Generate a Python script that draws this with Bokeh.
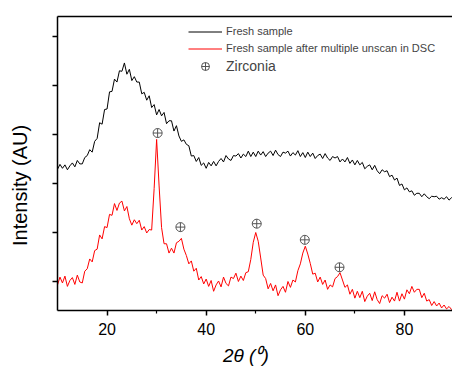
import numpy as np
from bokeh.plotting import figure
from bokeh.models import Range1d, FixedTicker, LinearAxis, Legend, LegendItem
from bokeh.embed import file_html
from bokeh.resources import INLINE

# ---- data ----
scan_start, scan_step = 10.0, 0.5          # 2theta grid of the scans (degrees)

fresh_sample = [
    229, 239, 231, 238, 228, 236, 242, 234, 247, 240,
    240, 253, 257, 269, 264, 286, 292, 324, 321, 351,
    352, 387, 388, 413, 407, 430, 429, 446, 423, 433,
    410, 418, 407, 407, 383, 386, 370, 379, 355, 361,
    340, 351, 338, 345, 322, 328, 328, 307, 318, 297,
    286, 289, 280, 277, 256, 257, 245, 253, 237, 242,
    231, 243, 236, 245, 236, 245, 251, 244, 257, 250,
    247, 257, 256, 261, 252, 260, 255, 266, 255, 264,
    255, 266, 258, 265, 255, 262, 266, 257, 268, 259,
    255, 264, 262, 266, 256, 263, 258, 267, 255, 263,
    253, 264, 255, 262, 251, 257, 260, 251, 261, 252,
    247, 255, 252, 255, 244, 250, 244, 253, 241, 248,
    238, 247, 238, 243, 230, 235, 238, 228, 237, 226,
    220, 228, 224, 226, 214, 217, 207, 211, 196, 199,
    187, 191, 183, 185, 176, 180, 180, 173, 179, 173,
    169, 174, 173, 174, 168, 171, 168, 173, 166, 171,
    167,
]

after_dsc = [
    -7, 9, -3, 11, -10, 2, 8, -6, 13, -1,
    -3, 21, 26, 46, 40, 63, 66, 95, 87, 112,
    110, 137, 135, 159, 145, 160, 164, 144, 153, 128,
    115, 126, 118, 125, 105, 112, 99, 106, 105, 190,
    290, 195, 110, 77, 77, 58, 68, 58, 79, 82,
    88, 66, 53, 36, 42, 21, 27, 3, 10, -5,
    5, -10, 2, -20, -7, 1, -11, 9, -4, -9,
    9, 6, 17, 0, 11, 2, 18, 20, 45, 80,
    100, 82, 48, 13, 6, -15, -4, -19, -7, -29,
    -17, -10, -22, 0, -12, 3, -1, 22, 36, 58,
    72, 56, 37, 15, 17, -1, 9, -6, 3, -16,
    -7, -11, 6, 10, 18, 3, -12, -7, -26, -16,
    -34, -20, -33, -20, -41, -30, -24, -39, -21, -37,
    -45, -29, -34, -26, -43, -32, -40, -22, -40, -25,
    -36, -17, -25, -10, -22, -16, -16, -33, -24, -40,
    -37, -49, -41, -50, -44, -54, -48, -56, -51, -57,
    -56,
]

two_theta = [scan_start + scan_step * i for i in range(len(fresh_sample))]

zirconia_2theta = [30.2, 34.8, 50.2, 59.9, 66.9]
zirconia_level = [303, 111, 118, 85, 29]

x_ticks = [20, 40, 60, 80]
x_minor_ticks = [30, 50, 70]
y_ticks = [0, 100, 200, 300, 400, 500]

x_title = "2θ (⁰)"
y_title = "Intensity (AU)"
x_title_at = 48
y_title_at = 196

FONT = "Liberation Sans"

p = figure(width=452, height=370,
           x_range=Range1d(10, 89.7), y_range=Range1d(-59.2, 540.8),
           output_backend="svg", toolbar_location=None,
           x_axis_type=None, y_axis_type=None,
           min_border_left=57, min_border_right=0,
           min_border_top=16, min_border_bottom=60)
p.outline_line_color = None
p.background_fill_color = "white"

xaxis = LinearAxis(ticker=FixedTicker(ticks=x_ticks, minor_ticks=x_minor_ticks),
                   axis_line_width=1.5, axis_line_color="black",
                   major_tick_in=0, major_tick_out=5, major_tick_line_width=1.5,
                   minor_tick_in=0, minor_tick_out=3, minor_tick_line_width=1.2,
                   major_label_standoff=7,
                   major_label_text_font=FONT, major_label_text_font_size="16px",
                   major_label_text_color="black")
p.add_layout(xaxis, "below")

xtitle_axis = LinearAxis(ticker=FixedTicker(ticks=[x_title_at], minor_ticks=[]),
                         major_label_overrides={x_title_at: x_title},
                         axis_line_color=None, major_tick_line_color=None,
                         minor_tick_line_color=None,
                         major_tick_in=0, major_tick_out=0, major_label_standoff=7,
                         major_label_text_font=FONT, major_label_text_font_size="19px",
                         major_label_text_font_style="italic",
                         major_label_text_color="black")
p.add_layout(xtitle_axis, "below")

yaxis = LinearAxis(ticker=FixedTicker(ticks=y_ticks, minor_ticks=[]),
                   axis_line_width=1.5, axis_line_color="black",
                   major_tick_in=0, major_tick_out=5, major_tick_line_width=1.5,
                   minor_tick_line_color=None,
                   major_label_standoff=0, major_label_text_font_size="0px",
                   major_label_text_color=None)
p.add_layout(yaxis, "left")

ytitle_axis = LinearAxis(ticker=FixedTicker(ticks=[y_title_at], minor_ticks=[]),
                         major_label_overrides={y_title_at: y_title},
                         major_label_orientation="vertical",
                         axis_line_color=None, major_tick_line_color=None,
                         minor_tick_line_color=None,
                         major_tick_in=0, major_tick_out=0, major_label_standoff=21,
                         major_label_text_font=FONT, major_label_text_font_size="20px",
                         major_label_text_color="black")
p.add_layout(ytitle_axis, "left")

topaxis = LinearAxis(ticker=FixedTicker(ticks=[], minor_ticks=[]),
                     axis_line_width=1.5, axis_line_color="black",
                     major_tick_in=0, major_tick_out=0, major_tick_line_color=None,
                     minor_tick_line_color=None,
                     major_label_standoff=0, major_label_text_font_size="0px",
                     major_label_text_color=None)
p.add_layout(topaxis, "above")

r_fresh = p.line(two_theta, fresh_sample, line_color="black", line_width=1)
r_dsc = p.line(two_theta, after_dsc, line_color="#ff0000", line_width=1)
r_zr = p.scatter(zirconia_2theta, zirconia_level, marker="circle_cross", size=9,
                 line_color="#555555", line_width=1, fill_color=None)

leg1 = Legend(items=[LegendItem(label="Fresh sample", renderers=[r_fresh]),
                     LegendItem(label="Fresh sample after multiple unscan in DSC", renderers=[r_dsc])],
              location=(131, 253.5), orientation="vertical",
              glyph_width=34, glyph_height=17, label_height=17, label_standoff=4,
              spacing=0, padding=0, margin=0,
              border_line_color=None, background_fill_alpha=0,
              label_text_font=FONT, label_text_font_size="11px")
p.add_layout(leg1)

leg2 = Legend(items=[LegendItem(label="Zirconia", renderers=[r_zr])],
              location=(131, 234), orientation="vertical",
              glyph_width=34, glyph_height=20, label_height=20, label_standoff=4,
              spacing=0, padding=0, margin=0,
              border_line_color=None, background_fill_alpha=0,
              label_text_font=FONT, label_text_font_size="14px")
p.add_layout(leg2)

open("out.html", "w").write(file_html(p, INLINE))
